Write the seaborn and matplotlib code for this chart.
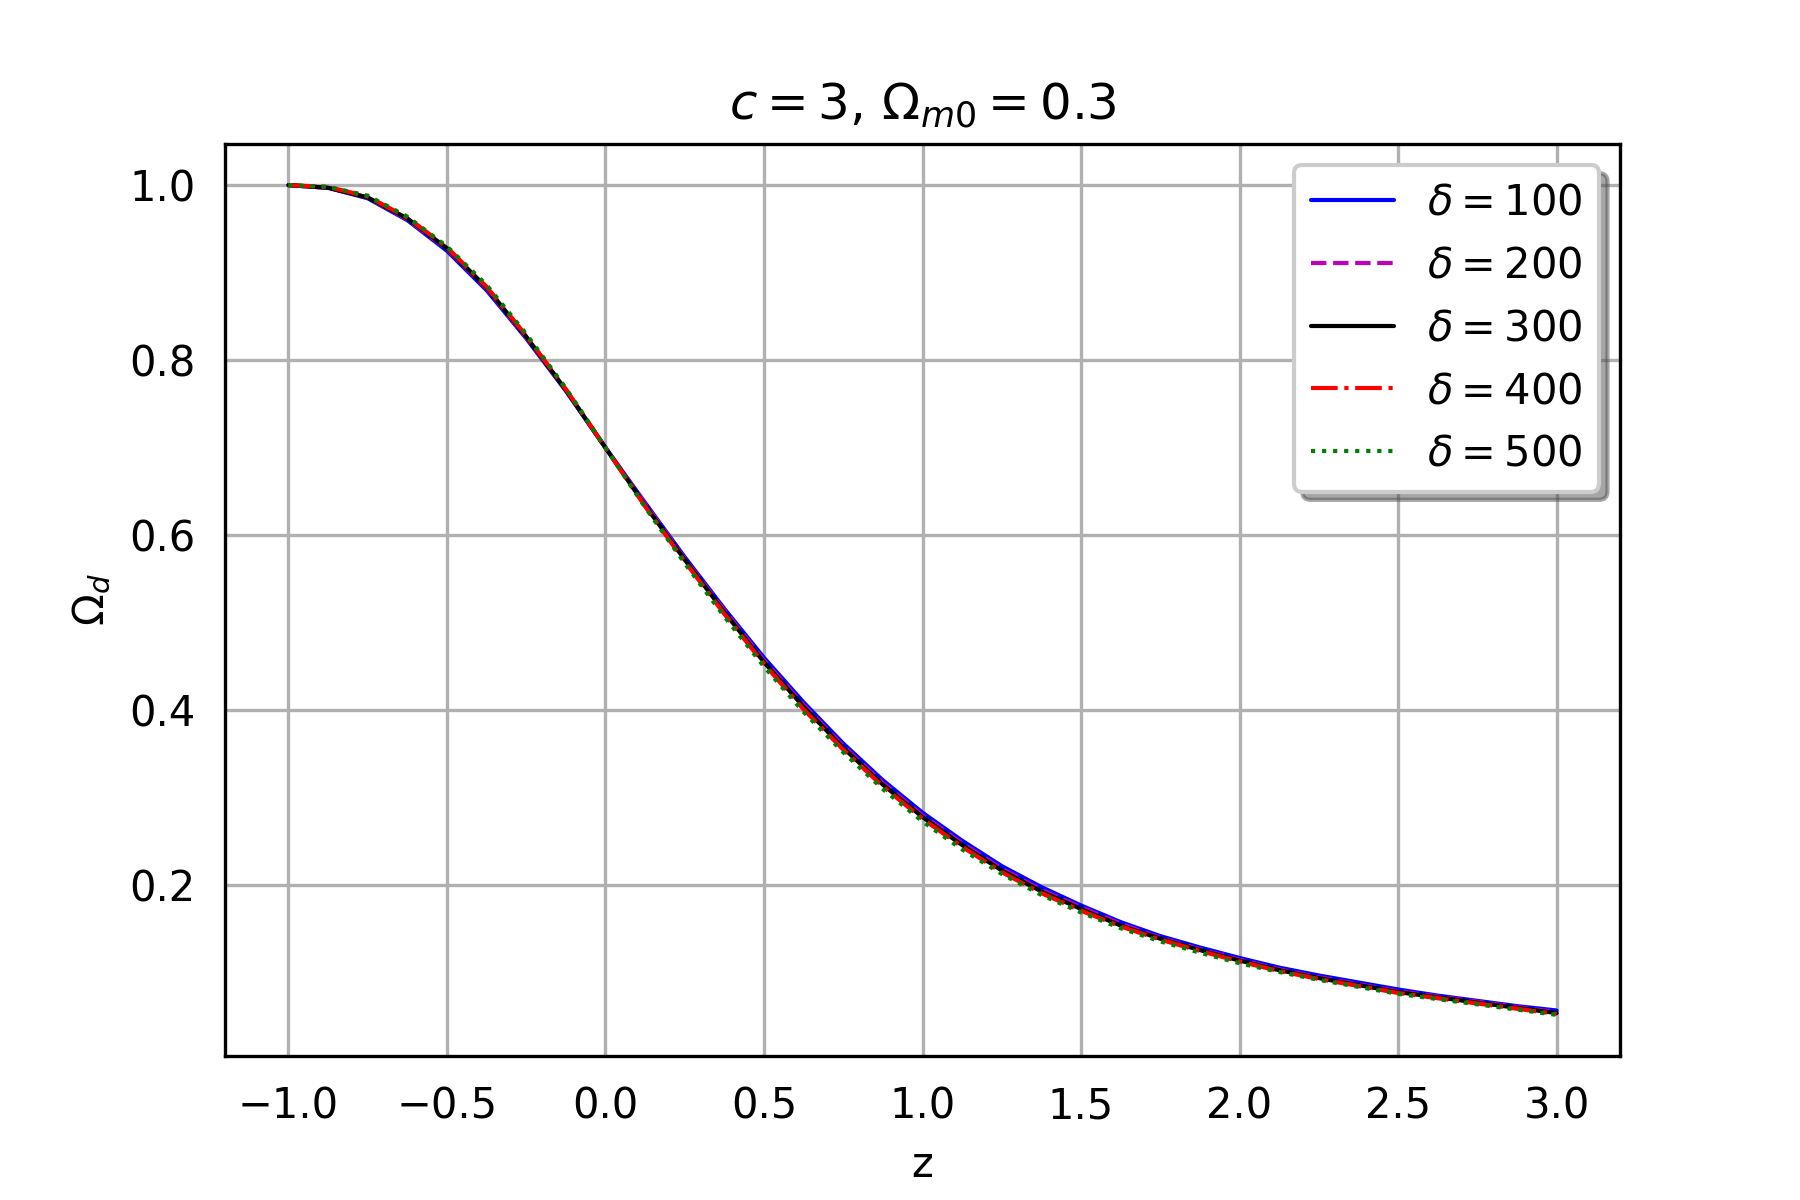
import matplotlib
matplotlib.use("Agg")
import matplotlib.pyplot as plt
import seaborn as sns
import pandas as pd

z = [-1.0, -0.875, -0.75, -0.625, -0.5, -0.375, -0.25, -0.125, 0.0, 0.125, 0.25, 0.375,
     0.5, 0.625, 0.75, 0.875, 1.0, 1.125, 1.25, 1.375, 1.5, 1.625, 1.75, 1.875,
     2.0, 2.125, 2.25, 2.375, 2.5, 2.625, 2.75, 2.875, 3.0]
omega_100 = [1.000, 0.997, 0.985, 0.960, 0.925, 0.880, 0.825, 0.765, 0.700, 0.637, 0.575, 0.516,
             0.460, 0.409, 0.362, 0.320, 0.283, 0.251, 0.222, 0.198, 0.177, 0.158, 0.142, 0.129,
             0.117, 0.106, 0.097, 0.089, 0.081, 0.074, 0.068, 0.062, 0.057]
omega_200 = [1.000, 0.997, 0.986, 0.961, 0.927, 0.882, 0.826, 0.766, 0.700, 0.636, 0.573, 0.514,
             0.457, 0.406, 0.359, 0.317, 0.280, 0.248, 0.219, 0.195, 0.175, 0.156, 0.140, 0.127,
             0.115, 0.104, 0.095, 0.087, 0.079, 0.073, 0.067, 0.061, 0.055]
omega_300 = [1.000, 0.997, 0.986, 0.962, 0.928, 0.883, 0.827, 0.766, 0.700, 0.634, 0.572, 0.512,
             0.455, 0.404, 0.357, 0.315, 0.278, 0.246, 0.217, 0.193, 0.173, 0.154, 0.139, 0.126,
             0.114, 0.103, 0.094, 0.086, 0.078, 0.072, 0.066, 0.060, 0.054]
omega_400 = [1.000, 0.998, 0.987, 0.963, 0.929, 0.884, 0.828, 0.767, 0.700, 0.633, 0.570, 0.510,
             0.453, 0.401, 0.355, 0.313, 0.276, 0.244, 0.215, 0.191, 0.171, 0.153, 0.138, 0.125,
             0.113, 0.102, 0.093, 0.085, 0.077, 0.071, 0.065, 0.059, 0.053]
omega_500 = [1.000, 0.998, 0.988, 0.964, 0.930, 0.886, 0.830, 0.768, 0.700, 0.632, 0.568, 0.507,
             0.450, 0.398, 0.352, 0.310, 0.273, 0.241, 0.213, 0.189, 0.169, 0.151, 0.136, 0.123,
             0.111, 0.101, 0.092, 0.084, 0.076, 0.070, 0.064, 0.058, 0.052]

deltas = ["100", "200", "300", "400", "500"]
series = [omega_100, omega_200, omega_300, omega_400, omega_500]
colors = ["b", "m", "k", "r", "g"]
styles = ["-", "--", "-", "-.", ":"]

sns.set_style("white")
plt.rcParams['font.family'] = ['DejaVu Sans']
plt.rcParams['mathtext.fontset'] = 'dejavusans'
plt.rcParams['text.color'] = 'black'
plt.rcParams['axes.labelcolor'] = 'black'

fig, ax = plt.subplots(figsize=(6, 4), dpi=300)
for d, vals, c, ls in zip(deltas, series, colors, styles):
    df = pd.DataFrame({"z": z, "omega": vals})
    sns.lineplot(data=df, x="z", y="omega", ax=ax, color=c, linestyle=ls,
                 linewidth=1.0, label=r"$\delta = %s$" % d)

ax.set_xticks([-1.0, -0.5, 0.0, 0.5, 1.0, 1.5, 2.0, 2.5, 3.0])
ax.set_yticks([0.2, 0.4, 0.6, 0.8, 1.0])
ax.set_xlim(-1.2, 3.2)
ax.set_ylim(0.005, 1.047)
ax.grid(True, color="#b0b0b0", linewidth=0.8)
for s in ax.spines.values():
    s.set_color("black")
    s.set_linewidth(0.8)
ax.tick_params(axis="both", direction="out", length=3.5, width=0.8, colors="black", labelsize=10)
ax.set_xlabel("z", fontsize=10)
ax.set_ylabel(r"$\Omega_d$", fontsize=10)
ax.set_title(r"$c = 3$, $\Omega_{m0} = 0.3$", fontsize=12)
ax.legend(loc="upper right", shadow=True, fontsize=10, framealpha=1, edgecolor="#cccccc")
fig.subplots_adjust(left=0.125, right=0.9, bottom=0.12, top=0.88)
fig.savefig("out.png", dpi=300)
